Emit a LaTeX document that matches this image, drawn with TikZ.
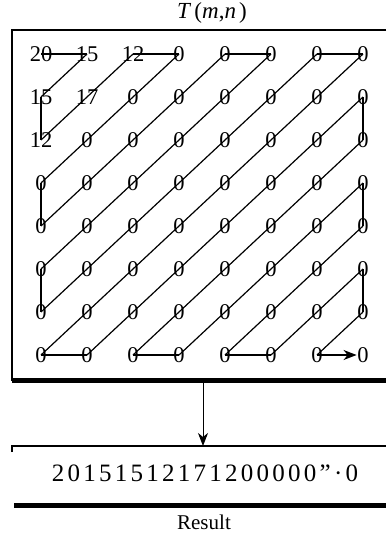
\documentclass[tikz,border=0pt]{standalone}
\usepackage{fontspec}
\setmainfont{Liberation Serif}
\usepackage{tikz}
\usetikzlibrary{arrows.meta}

\begin{document}
\begin{tikzpicture}[x=1pt,y=-1pt,
		entry/.style={inner sep=0.6pt,font=\fontsize{22.5}{22.5}\selectfont},
		scanline/.style={line width=1.2pt},
		frameline/.style={line width=2pt},
		thickline/.style={line width=5pt},
		bigtip/.style={-{Stealth[length=13pt,width=10pt,inset=4pt]}}]
				\useasboundingbox (0,0) rectangle (386,535);
				% title
				\node[font=\fontsize{23}{23}\selectfont] (title) at (212,13) {\addfontfeature{LetterSpace=14}\textit{T}(\textit{m},\textit{n})};
				% frame of the block
				\draw[frameline] (386,30) -- (12,30) -- (12,381);
				\draw[thickline] (12,380) -- (386,380);
				% coefficients
				\foreach \r/\vals in {0/{20,15,12,0,0,0,0,0},1/{15,17,0,0,0,0,0,0},2/{12,0,0,0,0,0,0,0},
					3/{0,0,0,0,0,0,0,0},4/{0,0,0,0,0,0,0,0},5/{0,0,0,0,0,0,0,0},6/{0,0,0,0,0,0,0,0},7/{0,0,0,0,0,0,0,0}}{
					\foreach \v [count=\c from 0] in \vals{
						\node[entry] (t\r\c) at (41+46*\c,54+43*\r) {\v};
					}
				}
				% zigzag diagonals
				\foreach \s in {1,...,13}{
					\pgfmathtruncatemacro{\ra}{max(0,\s-7)}
					\pgfmathtruncatemacro{\ca}{\s-\ra}
					\pgfmathtruncatemacro{\rb}{min(\s,7)}
					\pgfmathtruncatemacro{\cb}{\s-\rb}
					\draw[scanline] (t\ra\ca.center) -- (t\rb\cb.center);
				}
				% steps between diagonals
				\foreach \a/\b in {00/01,10/20,02/03,30/40,04/05,50/60,06/07,70/71,17/27,72/73,37/47,74/75,57/67}{
					\draw[scanline] (t\a.center) -- (t\b.center);
				}
				\draw[scanline,bigtip] (t76.center) -- (t77);
				% result block
				\coordinate (frameout) at (203,382);
				\coordinate (resin) at (203,446);
				\draw[line width=1pt,bigtip] (frameout) -- (resin);
				\draw[line width=1.5pt] (12,452) -- (12,446) -- (386,446);
				\node[font=\fontsize{25}{25}\selectfont] (result) at (205,473) {\addfontfeature{LetterSpace=13}20151512171200000"·0};
				\draw[thickline] (14,505) -- (386,505);
				\node[font=\fontsize{21}{21}\selectfont] (label) at (204,522) {Result};
			\end{tikzpicture}
\end{document}
